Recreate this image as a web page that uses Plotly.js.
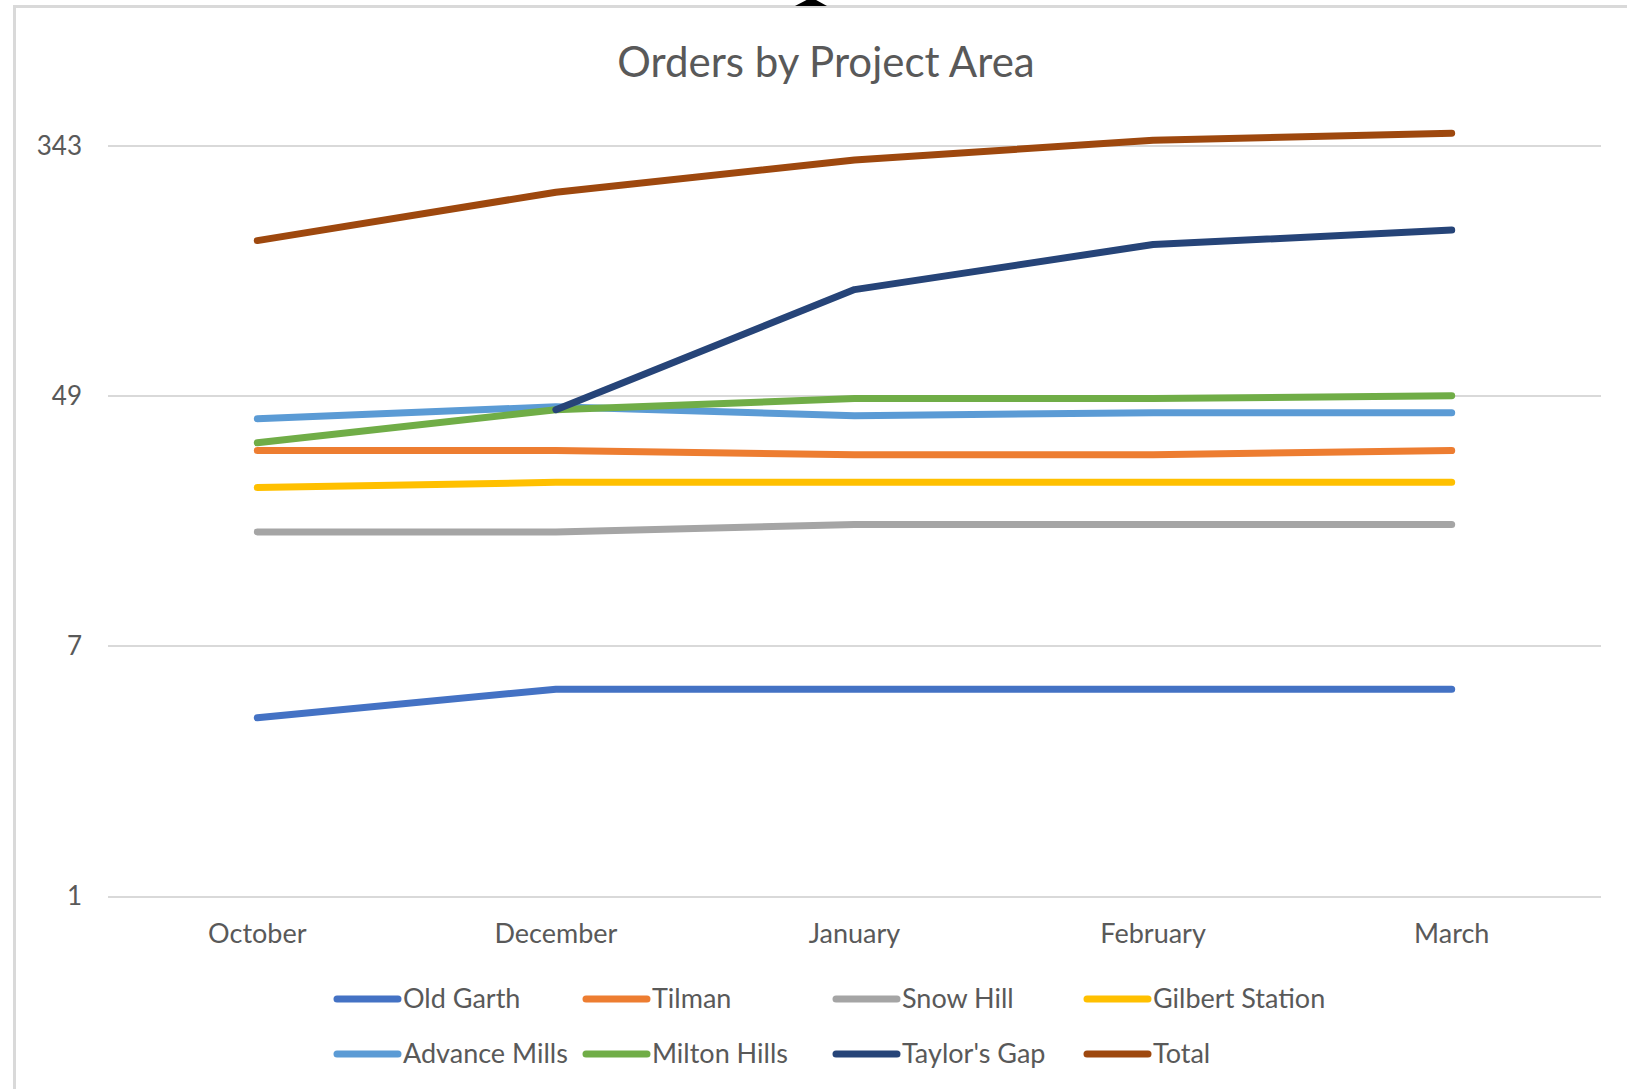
<!DOCTYPE html>
<html>
<head>
<meta charset="utf-8">
<script src="https://cdn.plot.ly/plotly-3.0.1.min.js"></script>
<style>
  html, body { margin: 0; padding: 0; background: #ffffff; overflow: hidden; }
  #chart { position: absolute; left: 0; top: 0; width: 1627px; height: 1089px; }
  #frame { position: absolute; left: 13px; top: 5px; width: 1700px; height: 1200px;
           border-left: 3px solid #d9d9d9; border-top: 3px solid #d9d9d9; pointer-events: none; }
  #handle { position: absolute; left: 795px; top: 0px; width: 32px; height: 6px; background: #000;
            clip-path: polygon(36% 0, 66% 0, 100% 100%, 0 100%); }
  .js-line { stroke-linecap: round; stroke-linejoin: round; }
  .shapelayer path { stroke-linecap: round; }
</style>
</head>
<body>
<div id="chart"></div>
<div id="frame"></div>
<div id="handle"></div>
<script>
// ---- data ----
const months = ["October", "December", "January", "February", "March"];
const oldGarth      = [4, 5, 5, 5, 5];
const tilman        = [32, 32, 31, 31, 32];
const snowHill      = [17, 17, 18, 18, 18];
const gilbertStation= [24, 25, 25, 25, 25];
const advanceMills  = [41, 45, 42, 43, 43];
const miltonHills   = [34, 44, 48, 48, 49];
const taylorsGap    = [null, 44, 112, 159, 178];
const total         = [164, 239, 307, 358, 378];
const yTicks = [1, 7, 49, 343];

const seriesNames  = ["Old Garth", "Tilman", "Snow Hill", "Gilbert Station",
                      "Advance Mills", "Milton Hills", "Taylor's Gap", "Total"];
const seriesValues = [oldGarth, tilman, snowHill, gilbertStation,
                      advanceMills, miltonHills, taylorsGap, total];
const seriesColors = ["#4472C4", "#ED7D31", "#A5A5A5", "#FFC000",
                      "#5B9BD5", "#70AD47", "#264478", "#9E480E"];

// ---- layout geometry (px) ----
const W = 1627, H = 1089;
const M = { l: 108, r: 26, t: 126, b: 193 };
const plotW = W - M.l - M.r, plotH = H - M.t - M.b;
const textColor = "#595959";
const FONT = "Lato, 'Open Sans', sans-serif";

const traces = seriesNames.map((name, i) => ({
  type: "scatter",
  mode: "lines",
  name: name,
  x: months,
  y: seriesValues[i],
  line: { color: seriesColors[i], width: 7 },
  connectgaps: false,
  showlegend: false,
  hoverinfo: "x+y+name"
}));

// custom legend (two rows of four, Excel style long line samples)
const legendCols = [334, 583, 833, 1084];
const legendRows = [999, 1054];
const sampleLen = 64;
const px2x = px => (px - M.l) / plotW;
const py2y = py => (H - M.b - py) / plotH;
const shapes = [];
const annotations = [];
seriesNames.forEach((name, i) => {
  const cx = legendCols[i % 4];
  const cy = legendRows[Math.floor(i / 4)];
  shapes.push({
    type: "line", xref: "paper", yref: "paper",
    x0: px2x(cx + 3), x1: px2x(cx + sampleLen), y0: py2y(cy), y1: py2y(cy),
    line: { color: seriesColors[i], width: 7 }
  });
  annotations.push({
    xref: "paper", yref: "paper", x: px2x(cx + sampleLen + 3), y: py2y(cy - 1.5),
    xanchor: "left", yanchor: "middle", showarrow: false,
    text: name, font: { family: FONT, size: 27, color: textColor }
  });
});

const layout = {
  width: W, height: H,
  margin: M,
  paper_bgcolor: "rgba(0,0,0,0)",
  plot_bgcolor: "rgba(0,0,0,0)",
  showlegend: false,
  title: {
    text: "Orders by Project Area",
    font: { family: FONT, size: 42, color: textColor },
    x: 826 / W, xref: "container", xanchor: "center",
    y: 1 - 62 / H, yref: "container", yanchor: "middle"
  },
  xaxis: {
    type: "category",
    range: [-0.5, 4.5],
    showgrid: false,
    zeroline: false,
    showline: true,
    linecolor: "#d9d9d9",
    linewidth: 2,
    ticks: "",
    ticklabelstandoff: 13,
    tickfont: { family: FONT, size: 27, color: textColor },
    fixedrange: true
  },
  yaxis: {
    type: "log",
    range: [0, Math.log10(400)],
    tickvals: yTicks,
    ticktext: yTicks.map(String),
    showgrid: true,
    gridcolor: "#d9d9d9",
    gridwidth: 2,
    zeroline: false,
    showline: false,
    ticks: "",
    ticklabelstandoff: 25,
    tickfont: { family: FONT, size: 26, color: textColor },
    fixedrange: true
  },
  shapes: shapes,
  annotations: annotations
};

Plotly.newPlot("chart", traces, layout, { displayModeBar: false, staticPlot: true });
</script>
</body>
</html>
